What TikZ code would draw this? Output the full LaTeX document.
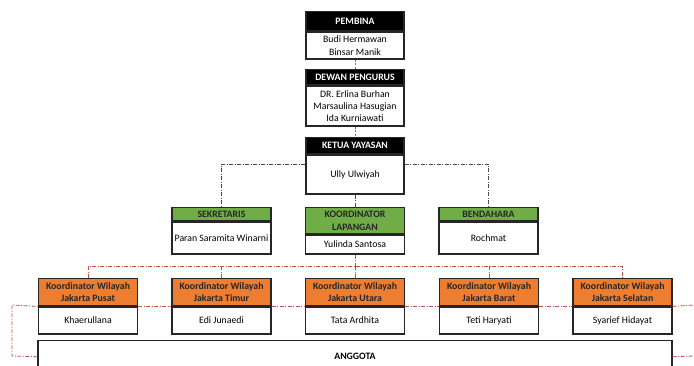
\documentclass[tikz,border=0pt]{standalone}
\usepackage{fontspec}
\setmainfont{Carlito}
\definecolor{xgreen}{HTML}{70AD47}
\definecolor{xorange}{HTML}{ED7D31}
\definecolor{xred}{HTML}{C0504D}
\tikzset{
  box/.style={draw=black!85, line width=1.4pt, inner sep=0pt, anchor=north, align=center,
    font=\fontsize{9.8}{12.3}\selectfont},
  hblack/.style={box, fill=black, text=white, font=\bfseries\fontsize{9.8}{12}\selectfont},
  hgreen/.style={box, fill=xgreen, text=black!85, font=\bfseries\fontsize{9.8}{12.3}\selectfont},
  horange/.style={box, fill=xorange, text=black!85, font=\bfseries\fontsize{9.8}{12.3}\selectfont},
  kdash/.style={draw=black!70, line width=0.8pt, dash pattern=on 4pt off 1.5pt on 1pt off 1.5pt},
  gdash/.style={draw=black!55, line width=0.8pt, dash pattern=on 2pt off 1.5pt},
  rdash/.style={draw=xred, line width=0.8pt, dash pattern=on 4pt off 1.5pt on 1pt off 1.5pt},
}
\begin{document}
\begin{tikzpicture}[x=1pt,y=-1pt]
\useasboundingbox (0,0) rectangle (694,365);
% top column
\node[hblack, minimum width=98pt, minimum height=19pt] (pH) at (355,11) {PEMBINA};
\node[box, minimum width=98pt, minimum height=27pt] (pB) at (pH.south) {Budi Hermawan\\Binsar Manik};
\node[hblack, minimum width=98pt, minimum height=15pt] (dH) at (355,69) {DEWAN PENGURUS};
\node[box, minimum width=98pt, minimum height=40pt] (dB) at (dH.south) {DR. Erlina Burhan\\Marsaulina Hasugian\\Ida Kurniawati};
\node[hblack, minimum width=98pt, minimum height=16pt] (kH) at (355,137) {KETUA YAYASAN};
\node[box, minimum width=98pt, minimum height=39pt] (kB) at (kH.south) {Ully Ulwiyah};
% middle row
\node[hgreen, minimum width=99pt, minimum height=13pt] (sH) at (221.5,207) {SEKRETARIS};
\node[box, minimum width=99pt, minimum height=32pt] (sB) at (sH.south) {Paran Saramita Winarni};
\node[hgreen, minimum width=99pt, minimum height=26pt] (kpH) at (355,207) {KOORDINATOR\\LAPANGAN};
\node[box, minimum width=99pt, minimum height=19pt] (kpB) at (kpH.south) {Yulinda Santosa};
\node[hgreen, minimum width=99pt, minimum height=13pt] (bH) at (488.5,207) {BENDAHARA};
\node[box, minimum width=99pt, minimum height=32pt] (bB) at (bH.south) {Rochmat};
% bottom row
\foreach \n/\x/\w/\p in {1/88/Jakarta Pusat/Khaerullana, 2/221.5/Jakarta Timur/Edi Junaedi,
  3/355/Jakarta Utara/Tata Ardhita, 4/489/Jakarta Barat/Teti Haryati, 5/622.5/Jakarta Selatan/Syarief Hidayat}{
  \node[horange, minimum width=99pt, minimum height=27pt] (w\n H) at (\x,278) {Koordinator Wilayah\\\w};
  \node[box, minimum width=99pt, minimum height=27pt] (w\n B) at (w\n H.south) {\p};
}
\node[box, minimum width=634pt, minimum height=32pt, font=\bfseries\fontsize{9.8}{12}\selectfont] (aN) at (355,340) {ANGGOTA};
% connectors
\draw[gdash] (pB.south) -- (dH.north);
\draw[gdash] (dB.south) -- (kH.north);
\coordinate (kbar) at (0,164);
\draw[kdash] (kB.west |- kbar) -| (sH.north);
\draw[kdash] (kB.east |- kbar) -| (bH.north);
\draw[kdash] (kB.south) -- (kpH.north);
\coordinate (rbar) at (0,266);
\draw[rdash] (kpB.south) -- (kpB.south |- rbar);
\draw[rdash] (w1H.north) -- (w1H.north |- rbar) -- (w5H.north |- rbar) -- (w5H.north);
\foreach \n in {2,3,4}{\draw[rdash] (w\n H.north |- rbar) -- (w\n H.north);}
\coordinate (L1) at (12,305);
\coordinate (L2) at (12,356);
\coordinate (R1) at (694,305);
\coordinate (R2) at (694,356);
\draw[rdash] (aN.west) -- (L2) -- (L1) -- (w1B.north west);
\draw[rdash] (w1B.north east) -- (w2B.north west);
\draw[rdash] (w2B.north east) -- (w3B.north west);
\draw[rdash] (w3B.north east) -- (w4B.north west);
\draw[rdash] (w4B.north east) -- (w5B.north west);
\draw[rdash] (w5B.north east) -- (R1);
\draw[rdash] (aN.east) -- (R2);
\end{tikzpicture}
\end{document}
